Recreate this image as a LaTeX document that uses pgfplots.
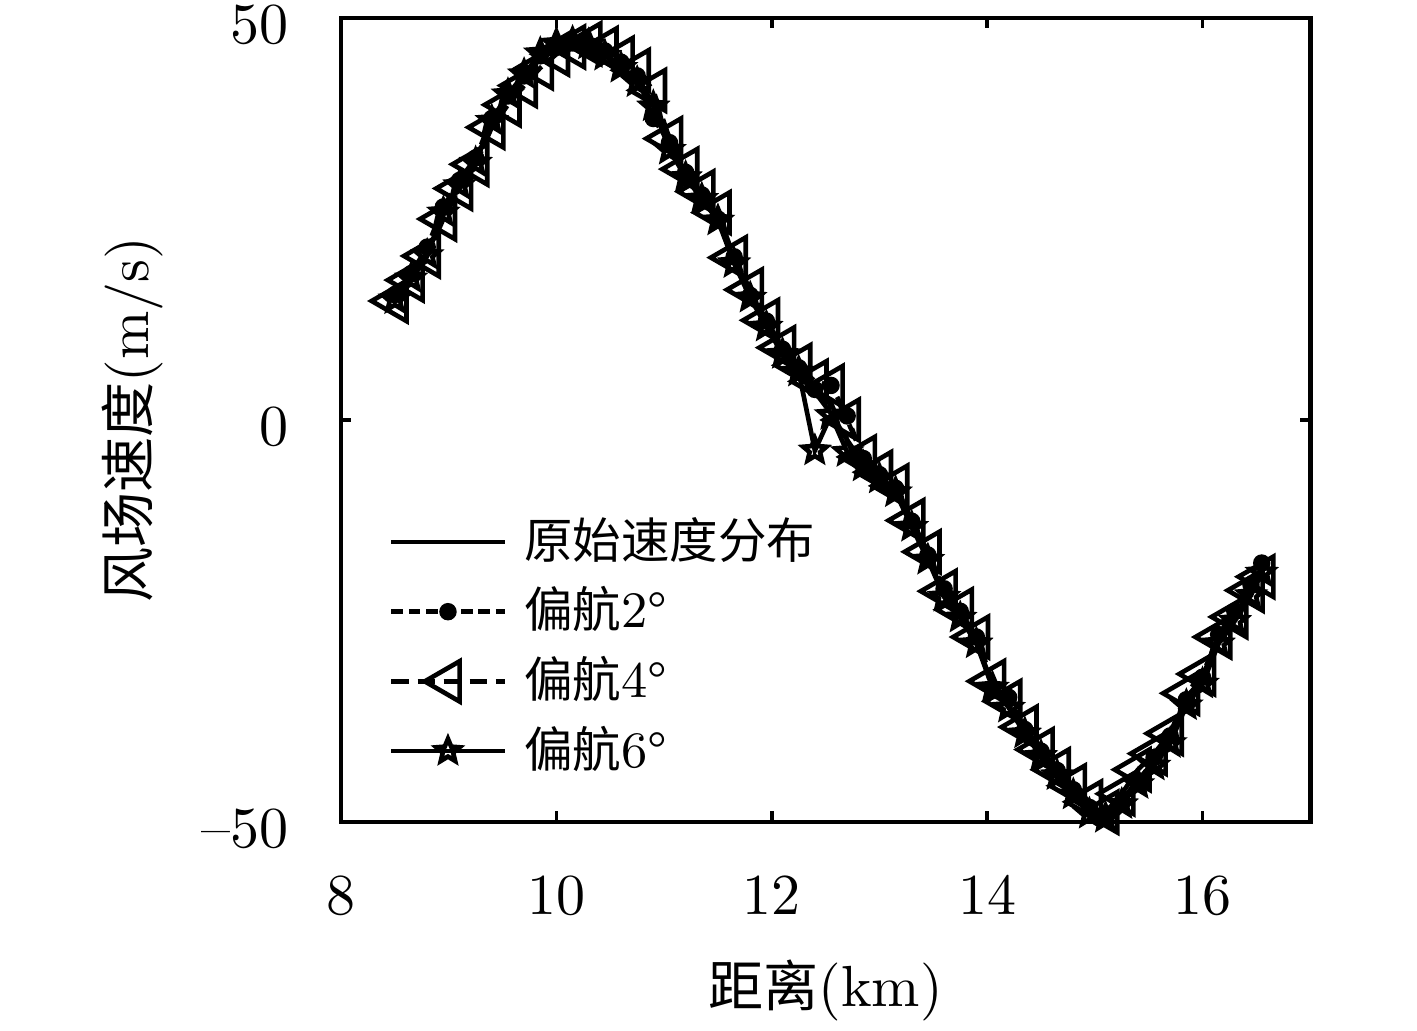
\documentclass[border=0pt]{standalone}
\usepackage{fontspec}
\usepackage{pgfplots}
\usepackage{pgfplotstable}
\pgfplotsset{compat=1.18}
\newfontfamily\cjk{Noto Sans CJK SC}[Scale=0.95]

\pgfdeclareplotmark{fivestar}{%
  \pgfpathmoveto{\pgfpointpolar{90}{\pgfplotmarksize}}%
  \pgfpathlineto{\pgfpointpolar{126}{0.45\pgfplotmarksize}}%
  \pgfpathlineto{\pgfpointpolar{162}{\pgfplotmarksize}}%
  \pgfpathlineto{\pgfpointpolar{198}{0.45\pgfplotmarksize}}%
  \pgfpathlineto{\pgfpointpolar{234}{\pgfplotmarksize}}%
  \pgfpathlineto{\pgfpointpolar{270}{0.45\pgfplotmarksize}}%
  \pgfpathlineto{\pgfpointpolar{306}{\pgfplotmarksize}}%
  \pgfpathlineto{\pgfpointpolar{342}{0.45\pgfplotmarksize}}%
  \pgfpathlineto{\pgfpointpolar{18}{\pgfplotmarksize}}%
  \pgfpathlineto{\pgfpointpolar{54}{0.45\pgfplotmarksize}}%
  \pgfpathclose\pgfusepathqstroke}

\pgfplotstableread{
x orig y2 y4 y6
8.50 15.3 15.6 14.8 15.0
8.65 17.8 18.2 17.4 17.6
8.80 20.8 21.5 20.4 20.5
8.95 25.5 26.5 25.0 25.8
9.10 29.5 29.8 28.8 29.2
9.25 32.3 32.6 31.8 32.0
9.40 37.0 37.5 36.4 37.2
9.55 40.0 40.3 39.2 40.5
9.70 42.5 42.8 41.6 43.0
9.85 45.0 45.3 43.8 45.6
10.00 46.3 46.5 45.5 46.8
10.15 46.8 46.9 46.4 47.0
10.30 46.6 46.4 46.8 46.7
10.45 45.5 45.9 46.2 45.3
10.60 44.0 44.5 45.0 43.8
10.75 42.3 42.8 43.5 42.0
10.90 39.5 37.5 41.0 39.0
11.05 34.0 34.5 35.0 33.6
11.20 30.5 30.8 31.2 30.2
11.35 27.8 28.0 28.4 27.5
11.50 25.2 25.0 25.8 24.8
11.65 19.8 20.3 20.2 19.5
11.80 15.8 15.5 16.2 15.2
11.95 12.0 12.3 12.4 11.6
12.10 8.5 8.8 9.0 8.2
12.25 6.3 6.5 6.8 6.0
12.40 3.5 3.8 4.8 -3.8
12.55 0.8 4.3 4.2 0.6
12.70 -2.5 0.5 0.0 -4.0
12.85 -5.5 -4.8 -4.6 -5.8
13.00 -7.0 -6.8 -6.5 -7.3
13.15 -8.8 -8.5 -8.2 -9.0
13.30 -13.0 -12.6 -12.5 -13.3
13.45 -17.0 -16.8 -16.4 -17.4
13.60 -21.8 -21.0 -21.3 -22.0
13.75 -24.2 -23.8 -23.6 -24.6
13.90 -27.5 -27.0 -27.0 -27.8
14.05 -33.0 -33.5 -32.5 -33.3
14.20 -35.5 -34.5 -35.0 -35.8
14.35 -38.8 -38.5 -38.2 -39.0
14.50 -41.5 -41.2 -41.0 -41.8
14.65 -44.0 -43.6 -43.5 -44.2
14.80 -46.3 -46.0 -45.5 -46.6
14.95 -48.5 -48.2 -47.5 -49.0
15.10 -49.2 -49.0 -48.8 -49.5
15.25 -47.3 -47.6 -46.5 -47.8
15.40 -44.8 -45.2 -43.5 -45.3
15.55 -42.5 -42.0 -41.5 -43.0
15.70 -39.7 -39.3 -39.0 -40.2
15.85 -34.5 -34.8 -34.0 -35.5
16.00 -32.2 -32.0 -31.6 -32.8
16.15 -27.2 -26.7 -27.0 -27.8
16.30 -24.3 -23.8 -24.5 -25.0
16.45 -21.0 -20.5 -21.2 -21.8
16.55 -18.5 -17.8 -19.5 -19.0
}\datatable

\begin{document}
\begin{tikzpicture}
\useasboundingbox (-58.8pt,-35.9pt) rectangle (185.5pt,141.7pt);
\begin{axis}[
  at={(0,0)}, anchor=south west,
  scale only axis, width=167.1pt, height=138.6pt,
  xmin=8, xmax=17, ymin=-50, ymax=50,
  xtick={8,10,12,14,16}, ytick={-50,0,50},
  yticklabels={\textendash50,0,50},
  minor tick num=0,
  tick align=inside, major tick length=1.8pt,
  tick style={black, line width=0.6pt},
  axis line style={line width=0.8pt},
  xticklabel style={yshift=-6pt},
  yticklabel style={xshift=-5.5pt, yshift=-1.2pt, inner ysep=0pt},
  xlabel={{\cjk 距离}(km)},
  ylabel={{\cjk 风场速度}(m/s)},
  xlabel style={at={(axis description cs:0.5,-0.209)}, anchor=center},
  ylabel style={at={(axis description cs:-0.2147,0.5)}, anchor=center, rotate=0},
  legend style={at={(axis description cs:0.0424,0.402)}, anchor=north west,
    draw=none, fill=none, font=\fontsize{8.8}{10}\selectfont,
    row sep=-0.6pt, inner sep=1pt},
  legend cell align=left,
  legend image code/.code={\draw[mark repeat=2,mark phase=2,#1] plot coordinates {(0pt,0pt)(9.75pt,0pt)(19.5pt,0pt)};},
  every axis plot/.append style={black, line width=0.8pt},
]
\addplot[solid, no markers] table[x=x, y=orig] {\datatable};
\addlegendentry{\hspace{1pt}{\cjk 原始速度分布}}
\addplot[dash pattern=on 2pt off 1pt, mark=*, mark size=1.1pt, mark options={solid, fill=black}] table[x=x, y=y2] {\datatable};
\addlegendentry{\hspace{1pt}{\cjk 偏航}2°}
\addplot[dash pattern=on 3pt off 1.5pt, mark=triangle, mark size=4pt, mark options={solid, rotate=90}] table[x=x, y=y4] {\datatable};
\addlegendentry{\hspace{1pt}{\cjk 偏航}4°}
\addplot[solid, mark=fivestar, mark size=2.1pt, mark options={solid}] table[x=x, y=y6] {\datatable};
\addlegendentry{\hspace{1pt}{\cjk 偏航}6°}
\end{axis}
\end{tikzpicture}
\end{document}
